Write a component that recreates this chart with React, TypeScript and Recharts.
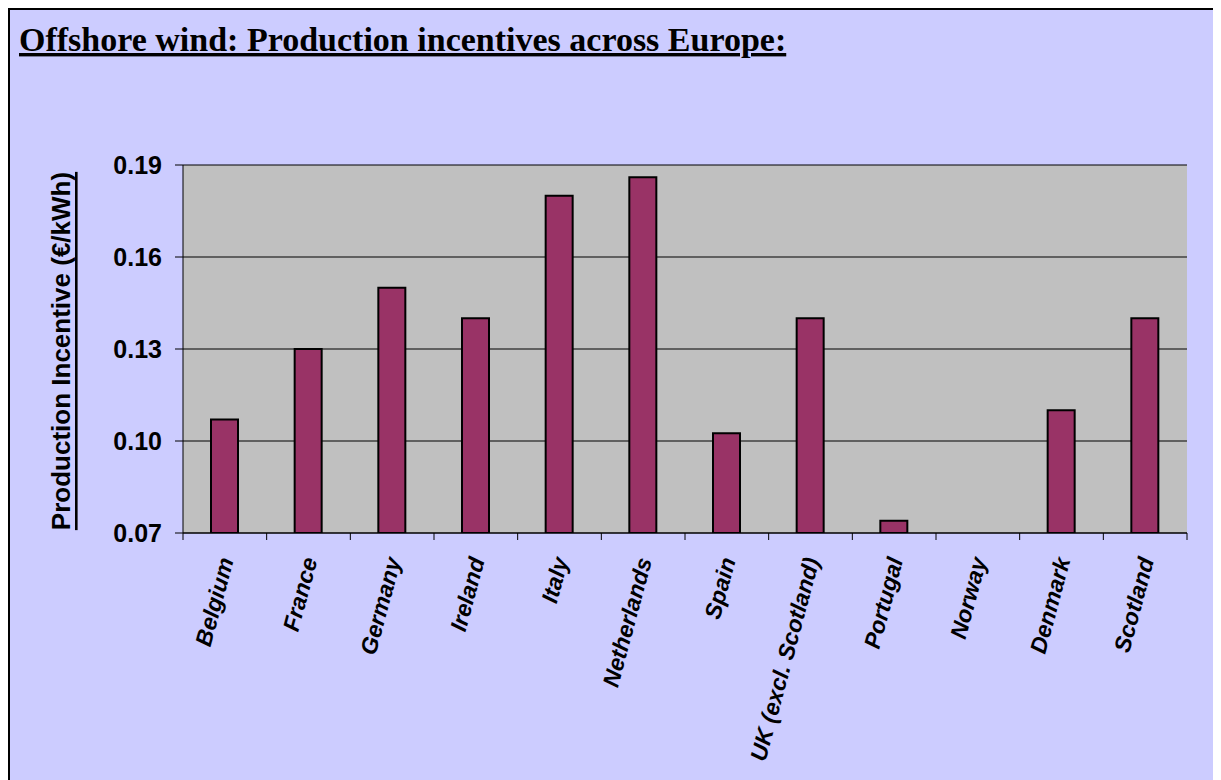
import React from "react"
import { BarChart, Bar, XAxis, YAxis, CartesianGrid } from "recharts"

const countries = [
  "Belgium",
  "France",
  "Germany",
  "Ireland",
  "Italy",
  "Netherlands",
  "Spain",
  "UK (excl. Scotland)",
  "Portugal",
  "Norway",
  "Denmark",
  "Scotland",
]
const incentives: (number | null)[] = [0.107, 0.13, 0.15, 0.14, 0.18, 0.186, 0.1025, 0.14, 0.074, null, 0.11, 0.14]
const yTicks = [0.07, 0.1, 0.13, 0.16, 0.19]

const data = countries.map((name, i) => ({ name, value: incentives[i] }))

const W = 1203
const H = 770
const M = { top: 155, right: 26, left: 0, bottom: 0 }
const Y_W = 173
const BAND = (W - M.right - Y_W) / countries.length

const CountryTick = (props: any) => {
  const { x, y, payload, index } = props
  const left = x - BAND / 2
  const tx = x + 9
  const ty = y + 27
  return (
    <g>
      <line x1={left} y1={y} x2={left} y2={y + 7} stroke="#000" />
      {index === countries.length - 1 && (
        <line x1={x + BAND / 2} y1={y} x2={x + BAND / 2} y2={y + 7} stroke="#000" />
      )}
      <text
        x={tx}
        y={ty}
        transform={`rotate(-75 ${tx} ${ty})`}
        textAnchor="end"
        fontFamily="Liberation Sans, Arial, sans-serif"
        fontSize={23}
        fontWeight="bold"
        fontStyle="italic"
        fill="#000"
      >
        {payload.value}
      </text>
    </g>
  )
}

const YLabel = () => (
  <text
    x={51}
    y={341}
    transform="rotate(-90 51 341)"
    textAnchor="middle"
    dominantBaseline="central"
    fontFamily="Liberation Sans, Arial, sans-serif"
    fontSize={26}
    fontWeight="bold"
    fill="#000"
    style={{ textDecoration: "underline" }}
  >
    Production Incentive (€/kWh)
  </text>
)

export default function App() {
  return (
    <div
      style={{
        position: "relative",
        width: 1213,
        height: 780,
        background: "#CCCCFF",
        borderTop: "2px solid #000",
        borderLeft: "2px solid #000",
        boxSizing: "border-box",
      }}
    >
      <style>{"body{overflow:hidden}"}</style>
      <svg width={1000} height={80} style={{ position: "absolute", left: 0, top: 0 }}>
        <text
          x={9}
          y={41}
          fontFamily="Liberation Serif, Times New Roman, serif"
          fontSize={34}
          fontWeight="bold"
          fill="#000"
          style={{ textDecoration: "underline" }}
        >
          Offshore wind: Production incentives across Europe:
        </text>
      </svg>
      <div style={{ position: "absolute", left: 0, top: 0 }}>
        <BarChart width={W} height={H} data={data} margin={M} barSize={27}>
          <CartesianGrid vertical={false} fill="#C0C0C0" stroke="#000" />
          <XAxis
            dataKey="name"
            interval={0}
            tickLine={false}
            tickSize={0}
            tickMargin={0}
            height={H - M.top - 368}
            axisLine={{ stroke: "#000" }}
            tick={<CountryTick />}
          />
          <YAxis
            width={Y_W}
            domain={[0.07, 0.19]}
            ticks={yTicks}
            allowDataOverflow
            tickSize={8}
            tickMargin={13}
            axisLine={{ stroke: "#000" }}
            tickLine={{ stroke: "#000" }}
            tickFormatter={(v: number) => v.toFixed(2)}
            tick={{ fill: "#000", fontSize: 25, fontWeight: "bold", fontFamily: "Liberation Sans, Arial, sans-serif" }}
            label={<YLabel />}
          />
          <YAxis
            yAxisId="frame"
            orientation="right"
            width={0}
            domain={[0.07, 0.19]}
            tick={false}
            axisLine={{ stroke: "#808080" }}
          />
          <Bar dataKey="value" fill="#993366" stroke="#000" strokeWidth={2} isAnimationActive={false} />
        </BarChart>
      </div>
    </div>
  )
}
